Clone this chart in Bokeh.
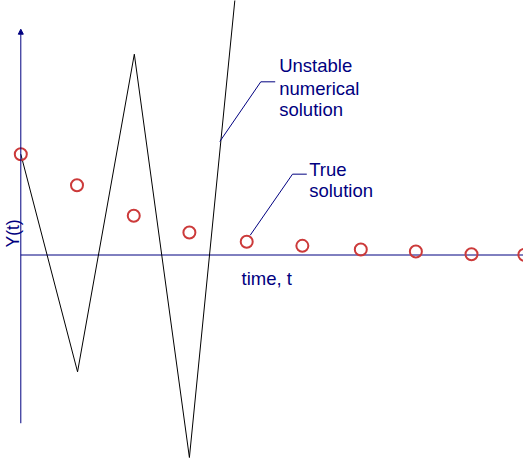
import math
from bokeh.plotting import figure
from bokeh.models import Label, Arrow, NormalHead
from bokeh.embed import file_html
from bokeh.resources import INLINE

# ---- data ----
true_t = [0, 1.0, 2.01, 3.0, 4.02, 5.01, 6.05, 7.03, 8.02, 8.96]
true_y = [1.0, 0.692, 0.389, 0.223, 0.131, 0.091, 0.055, 0.035, 0.008, 0.002]

num_t = [0, 1.01, 2.02, 3.0, 4.0]
num_y = [1.0, -1.159, 1.992, -2.009, 3.6]

x_label = "time, t"
y_label = "Y(t)"
unstable_lines = ["Unstable", "numerical", "solution"]
true_lines = ["True", "solution"]

# ---- layout / style ----
NAVY = "#000080"
RED = "#cc3a3a"
FONT = "Liberation Sans"

p = figure(width=523, height=458, x_range=(-0.3612, 8.945), y_range=(-2.0188, 2.5248),
           x_axis_type=None, y_axis_type=None, toolbar_location=None,
           output_backend="svg", title=None, min_border=0)
p.grid.visible = False
p.outline_line_color = None
p.background_fill_color = "white"

# axes drawn as lines
p.line([0, 9.5], [0, 0], line_color=NAVY, line_width=1)
p.add_layout(Arrow(x_start=0, y_start=-1.669, x_end=0, y_end=2.24,
                   line_color=NAVY, line_width=1,
                   end=NormalHead(size=5, fill_color=NAVY, line_color=NAVY, line_width=1)))

# unstable numerical solution
p.line(num_t, num_y, line_color="black", line_width=1)

# true solution
p.scatter(true_t, true_y, marker="circle", size=12, fill_color=None,
          line_color=RED, line_width=2)

# leader lines
p.line([3.541, 4.270, 4.527], [1.126, 1.718, 1.718], line_color=NAVY, line_width=1)
p.line([4.082, 4.835, 5.089], [0.196, 0.802, 0.802], line_color=NAVY, line_width=1)

# texts
def lab(x, y, txt, size="18.5px", angle=0.0):
    p.add_layout(Label(x=x, y=y, text=txt, text_color=NAVY, text_font=FONT,
                       text_font_size=size, text_align="left",
                       text_baseline="alphabetic", angle=angle))

lab(3.927, -0.233, x_label)
lab(-0.135, 0.074, y_label, size="17.5px", angle=math.pi / 2)
for txt, yy in zip(unstable_lines, [1.877, 1.655, 1.446]):
    lab(4.598, yy, txt)
for txt, yy in zip(true_lines, [0.851, 0.643]):
    lab(5.132, yy, txt)

open("out.html", "w").write(file_html(p, INLINE))
